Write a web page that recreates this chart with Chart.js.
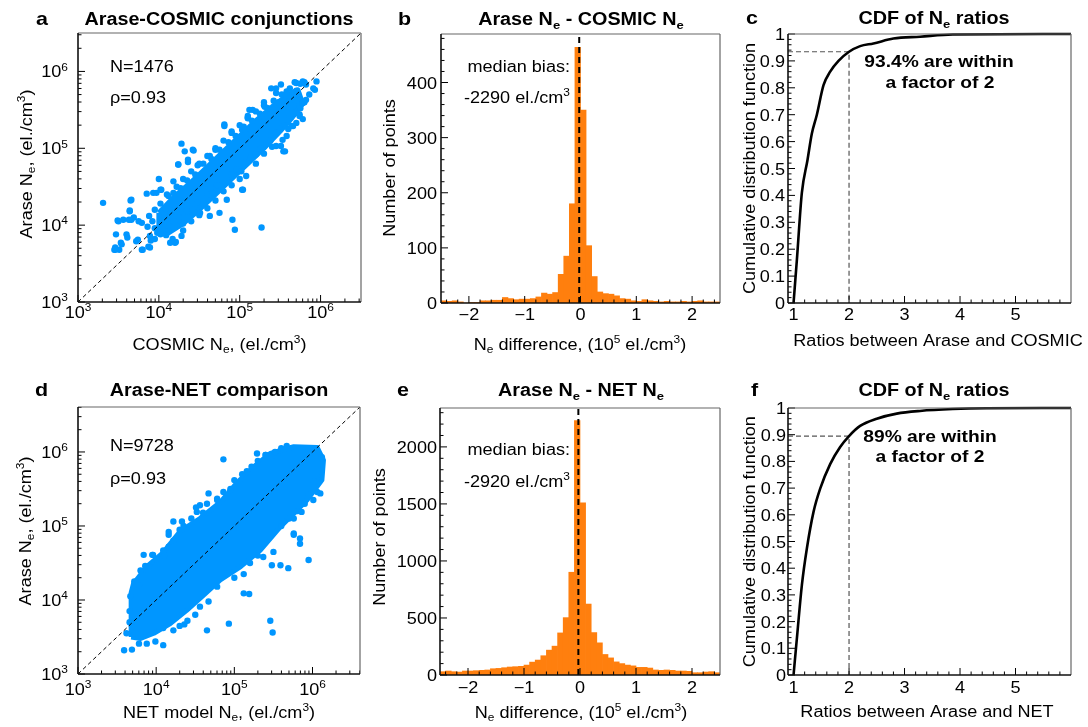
<!DOCTYPE html>
<html>
<head>
<meta charset="utf-8">
<script src="https://cdn.jsdelivr.net/npm/chart.js"></script>
<style>
  html, body { margin: 0; padding: 0; background: #fff; }
  #wrap { position: relative; width: 1088px; height: 727px; }
  #wrap canvas { position: absolute; left: 0; top: 0; }
</style>
</head>
<body>
<div id="wrap">
  <canvas id="pa" width="1088" height="727"></canvas>
  <canvas id="pb" width="1088" height="727"></canvas>
  <canvas id="pc" width="1088" height="727"></canvas>
  <canvas id="pd" width="1088" height="727"></canvas>
  <canvas id="pe" width="1088" height="727"></canvas>
  <canvas id="pf" width="1088" height="727"></canvas>
</div>
<script>
// ---- data ----
// scatter values are log10(Ne) pairs: [x, y]
// dense core of the Arase-COSMIC cloud (outline of the solid area)
const cosmicCore = [
  [4.0, 4.16], [4.2, 4.38], [4.4, 4.56], [4.6, 4.76], [4.8, 4.96], [5.0, 5.16],
  [5.2, 5.36], [5.4, 5.54], [5.6, 5.7], [5.72, 5.76], [5.78, 5.58], [5.65, 5.4], [5.5, 5.22],
  [5.3, 5.0], [5.1, 4.8], [4.9, 4.6], [4.7, 4.4], [4.5, 4.2], [4.3, 4.02], [4.12, 3.9],
  [4.0, 3.92], [4.0, 4.16]
];
const cosmicPoints = [
  // upper side of the band
  [3.88, 4.12], [3.95, 4.2], [4.02, 4.28], [4.08, 4.22], [4.12, 4.38], [4.18, 4.42], [4.22, 4.5],
  [4.27, 4.48], [4.3, 4.6], [4.35, 4.58], [4.4, 4.7], [4.45, 4.66], [4.48, 4.78], [4.55, 4.8],
  [4.6, 4.9], [4.65, 4.86], [4.7, 5.0], [4.75, 4.98], [4.8, 5.1], [4.86, 5.08], [4.9, 5.2],
  [4.95, 5.16], [5.0, 5.3], [5.05, 5.28], [5.1, 5.4], [5.15, 5.36], [5.2, 5.48], [5.25, 5.45],
  [5.3, 5.56], [5.35, 5.52], [5.42, 5.62], [5.48, 5.6], [5.52, 5.7], [5.58, 5.68], [5.62, 5.78],
  [5.7, 5.75], [5.75, 5.84], [4.03, 4.46], [3.93, 4.42], [4.24, 4.79], [4.36, 4.85], [4.42, 4.98],
  [4.81, 5.29], [5.12, 5.5], [5.39, 5.78], [5.51, 5.83], [5.7, 5.85], [4.63, 4.9], [5.03, 5.24],
  [4.1, 4.4], [4.5, 4.8], [4.7, 4.98], [4.9, 5.22], [5.1, 5.42], [5.3, 5.6], [5.45, 5.72],
  [3.92, 4.05], [3.86, 3.98], [3.95, 3.96],
  // lower side of the band
  [3.9, 3.8], [3.98, 3.9], [4.05, 3.95], [4.12, 3.92], [4.18, 4.05], [4.25, 4.1], [4.3, 4.02],
  [4.35, 4.18], [4.42, 4.2], [4.48, 4.3], [4.55, 4.28], [4.6, 4.4], [4.66, 4.42], [4.72, 4.52],
  [4.78, 4.5], [4.84, 4.62], [4.9, 4.66], [4.96, 4.72], [5.02, 4.7], [5.08, 4.82], [5.14, 4.88],
  [5.2, 4.92], [5.26, 5.0], [5.32, 5.05], [5.38, 5.1], [5.44, 5.2], [5.5, 5.25], [5.56, 5.3],
  [5.62, 5.4], [5.68, 5.46], [5.74, 5.55], [5.8, 5.6], [5.86, 5.7], [5.78, 5.59], [5.74, 5.44],
  [5.66, 5.29], [5.53, 5.11], [5.51, 5.03], [5.56, 4.96], [5.08, 4.64], [5.04, 4.46], [4.51, 4.16],
  [4.22, 3.99], [3.89, 3.86], [4.14, 3.77], [4.2, 3.77], [3.89, 3.71], [3.79, 3.68], [3.72, 3.79],
  [4.5, 4.13], [4.6, 4.22], [4.7, 4.32], [4.8, 4.44], [4.9, 4.52], [5.0, 4.6], [5.2, 4.8],
  [5.3, 4.93], [5.4, 5.02], [5.6, 5.25], [4.4, 4.05], [4.3, 3.93],
  // scattered points
  [3.31, 4.29], [3.46, 3.71], [3.49, 4.06], [3.45, 3.68], [3.51, 3.68], [3.53, 3.77], [3.6, 3.88],
  [3.61, 3.84], [3.65, 4.32], [3.64, 4.19], [3.63, 4.07], [3.69, 4.1], [3.74, 3.81], [3.8, 3.68],
  [3.87, 3.72], [3.75, 4.05], [3.79, 4.03], [3.85, 4.41], [3.97, 4.42], [4.02, 4.46], [4.18, 4.57],
  [4.24, 4.79], [4.32, 4.96], [4.36, 4.82], [4.43, 4.97], [4.81, 5.31], [4.91, 4.07], [4.94, 3.94],
  [5.27, 3.97], [5.03, 4.46], [4.84, 4.33], [4.63, 4.12], [4.75, 4.16], [4.28, 3.86], [4.21, 3.78],
  [4.17, 3.82], [4.09, 3.87], [3.95, 3.82], [4.02, 3.88], [5.45, 5.78], [5.45, 5.03], [5.54, 4.96],
  [5.58, 5.16], [5.64, 5.29], [5.7, 5.33], [5.74, 5.42], [5.75, 5.52], [5.78, 5.38], [5.16, 5.5],
  [5.31, 5.54], [5.1, 5.39], [5.68, 5.86], [5.78, 5.87], [5.8, 5.86], [5.95, 5.87], [5.93, 5.76],
  [5.91, 5.78], [5.82, 5.63], [5.72, 5.72], [5.62, 5.63], [5.58, 5.74], [5.82, 5.83],
  [3.66, 4.33], [3.64, 4.18], [3.66, 4.07], [3.56, 4.07], [3.5, 4.05], [3.47, 3.88], [3.46, 3.68],
  [3.54, 3.75], [4.28, 5.06], [4.0, 4.6]
];

// dense core of the Arase-NET cloud
const netCore = [
  [3.68, 3.5], [3.68, 4.1], [3.71, 4.22], [3.88, 4.45], [4.09, 4.64], [4.31, 4.93], [4.56, 5.1],
  [4.82, 5.32], [5.03, 5.58], [5.25, 5.8], [5.46, 5.98], [5.76, 6.07], [6.06, 6.06], [6.14, 5.89],
  [6.12, 5.62], [5.93, 5.35], [5.76, 5.17], [5.59, 4.99], [5.33, 4.67], [5.08, 4.45], [4.82, 4.27],
  [4.61, 4.07], [4.39, 3.86], [4.18, 3.68], [3.97, 3.55], [3.8, 3.48], [3.68, 3.5]
];
const netPoints = [
  // upper-left edge
  [3.72, 4.25], [3.8, 4.4], [3.9, 4.45], [3.95, 4.61], [3.84, 4.61], [4.0, 4.55], [4.1, 4.6],
  [4.16, 4.72], [4.22, 4.8], [4.16, 4.92], [4.22, 5.06], [4.3, 4.95], [4.35, 5.0], [4.45, 5.1],
  [4.51, 5.25], [4.6, 5.18], [4.65, 5.3], [4.78, 5.35], [4.86, 5.46], [4.95, 5.5], [5.0, 5.62],
  [5.1, 5.7], [5.16, 5.74], [5.22, 5.8], [5.3, 5.88], [5.4, 5.96], [5.48, 5.95], [4.86, 5.9],
  [5.6, 6.05], [5.67, 6.08], [5.52, 6.0], [4.67, 5.44], [4.56, 5.28], [4.33, 5.06], [4.16, 4.88],
  [4.09, 4.67], [3.96, 4.61], [3.86, 4.46], [3.78, 4.2], [5.16, 5.73], [5.29, 5.98], [5.4, 5.96],
  [4.95, 5.48], [4.78, 5.37], [4.52, 5.19],
  // lower-right edge and outliers
  [6.12, 5.93], [6.06, 5.46], [6.02, 5.6], [5.95, 5.42], [5.9, 5.3], [5.84, 4.83], [5.84, 4.76],
  [5.76, 4.88], [5.95, 4.54], [5.8, 5.2], [5.7, 5.1], [5.6, 5.0], [5.69, 4.43], [5.59, 4.47],
  [5.48, 4.47], [5.5, 4.65], [5.37, 4.58], [5.3, 4.6], [5.2, 4.5], [5.12, 4.35], [5.0, 4.3],
  [4.91, 4.36], [4.78, 4.18], [4.67, 3.98], [4.56, 3.91], [4.5, 3.8], [4.4, 3.72], [4.3, 3.65],
  [5.12, 4.09], [5.19, 4.08], [4.93, 3.68], [4.65, 3.59], [4.36, 3.67], [5.46, 3.72], [5.49, 3.56],
  [4.22, 3.59], [4.09, 3.62], [4.09, 3.39], [3.99, 3.44], [3.88, 3.41], [3.78, 3.41], [3.69, 3.33],
  [3.73, 3.55], [3.59, 3.32], [3.62, 3.55], [3.66, 3.7], [3.66, 3.85], [3.67, 4.05], [6.1, 5.44],
  [6.01, 5.35], [5.86, 5.19], [5.76, 5.1], [5.76, 4.9]
];

// histogram bins, Ne difference in 1e5 el./cm3
const diffBinCenters = [
  -2.45, -2.35, -2.25, -2.15, -2.05, -1.95, -1.85, -1.75, -1.65, -1.55,
  -1.45, -1.35, -1.25, -1.15, -1.05, -0.95, -0.85, -0.75, -0.65, -0.55,
  -0.45, -0.35, -0.25, -0.15, -0.05, 0.05, 0.15, 0.25, 0.35, 0.45,
  0.55, 0.65, 0.75, 0.85, 0.95, 1.05, 1.15, 1.25, 1.35, 1.45,
  1.55, 1.65, 1.75, 1.85, 1.95, 2.05, 2.15, 2.25, 2.35, 2.45
];
const cosmicDiffCounts = [
  4, 3, 4, 2, 0, 1, 1, 4, 4, 5,
  5, 10, 8, 6, 7, 7, 8, 11, 18, 16,
  19, 52, 85, 180, 464, 350, 104, 48, 20, 17,
  16, 13, 8, 7, 4, 3, 6, 4, 3, 2,
  3, 2, 2, 3, 2, 3, 4, 2, 2, 2
];
const netDiffCounts = [
  29, 35, 29, 26, 35, 35, 38, 41, 44, 55,
  58, 64, 70, 73, 76, 87, 113, 131, 169, 218,
  253, 369, 503, 901, 2230, 1509, 622, 372, 282, 180,
  150, 115, 100, 87, 80, 67, 67, 61, 44, 41,
  44, 41, 35, 35, 32, 20, 20, 26, 29, 20
];
const cosmicMedianBias = -0.0229;
const netMedianBias = -0.0292;

// CDFs of the Ne ratios
const cdfRatioC = [1.0, 1.06, 1.15, 1.25, 1.33, 1.42, 1.54, 1.66, 1.81, 2.0, 2.2, 2.44, 2.8, 3.28, 3.87, 6.0];
const cdfValueC = [0, 0.16, 0.41, 0.53, 0.63, 0.7, 0.81, 0.86, 0.9, 0.934, 0.955, 0.965, 0.983, 0.99, 0.998, 1.0];
const cdfRatioF = [1.0, 1.07, 1.15, 1.24, 1.36, 1.48, 1.66, 1.84, 2.0, 2.2, 2.5, 2.86, 3.28, 3.87, 4.47, 6.0];
const cdfValueF = [0, 0.16, 0.337, 0.474, 0.611, 0.698, 0.79, 0.854, 0.895, 0.933, 0.96, 0.979, 0.989, 0.996, 0.999, 1.0];
const withinTwoC = 0.934;
const withinTwoF = 0.895;

// tick labels
const logTickValues = [1e3, 1e4, 1e5, 1e6];
const logTickLabels = ['10^{3}', '10^{4}', '10^{5}', '10^{6}'];
const diffTickValues = [-2, -1, 0, 1, 2];
const diffTickLabels = ['\u22122', '\u22121', '0', '1', '2'];
const cosmicCountTicks = [0, 100, 200, 300, 400];
const netCountTicks = [0, 500, 1000, 1500, 2000];
const ratioTicks = [1, 2, 3, 4, 5];
const cdfTicks = [0, 0.1, 0.2, 0.3, 0.4, 0.5, 0.6, 0.7, 0.8, 0.9, 1];
const cdfTickLabels = ['0', '0.1', '0.2', '0.3', '0.4', '0.5', '0.6', '0.7', '0.8', '0.9', '1'];

// ---- drawing helpers ----
const W = 1088, H = 727;
const FONT = '"Liberation Sans", Arial, sans-serif';
const SX = 1.13; // the figure's lettering is a bit wider than Arial
const BLUE = 'rgb(0,150,255)';
const ORANGE = 'rgb(255,127,14)';

function parseRich(str) {
  const out = [];
  const re = /([_^])\{([^}]*)\}/g;
  let last = 0, m;
  while ((m = re.exec(str))) {
    if (m.index > last) out.push([str.slice(last, m.index), '']);
    out.push([m[2], m[1] === '_' ? 'sub' : 'sup']);
    last = re.lastIndex;
  }
  if (last < str.length) out.push([str.slice(last), '']);
  return out;
}

function drawText(ctx, str, x, y, o = {}) {
  const size = o.size || 16;
  const weight = o.bold ? 'bold ' : '';
  const small = size * 0.66;
  const parts = parseRich(str);
  ctx.save();
  ctx.translate(x, y);
  if (o.rotate) ctx.rotate(-Math.PI / 2);
  ctx.scale(SX, 1);
  ctx.fillStyle = '#000';
  ctx.textBaseline = 'alphabetic';
  ctx.textAlign = 'left';
  let w = 0;
  const widths = parts.map(([t, k]) => {
    ctx.font = weight + (k ? small : size) + 'px ' + FONT;
    const tw = ctx.measureText(t).width;
    w += tw;
    return tw;
  });
  let cx = o.align === 'center' ? -w / 2 : o.align === 'right' ? -w : 0;
  parts.forEach(([t, k], i) => {
    ctx.font = weight + (k ? small : size) + 'px ' + FONT;
    const dy = k === 'sub' ? size * 0.2 : k === 'sup' ? -size * 0.42 : 0;
    ctx.fillText(t, cx, dy);
    cx += widths[i];
  });
  ctx.restore();
}

function logMinor(max) {
  const out = [];
  for (let e = 3; e <= 6; e++) for (let k = 2; k <= 9; k++) if (k * 10 ** e < max) out.push(k * 10 ** e);
  return out;
}
function stepMinor(from, to, step, skip) {
  const out = [];
  const n = Math.round((to - from) / step);
  for (let i = 0; i <= n; i++) {
    const v = +(from + i * step).toFixed(4);
    if (!skip.some(s => Math.abs(s - v) < 1e-6)) out.push(v);
  }
  return out;
}

function decoPlugin(d) {
  return {
    id: 'deco',
    afterDraw(chart) {
      const { ctx, chartArea: a, scales: { x, y } } = chart;
      ctx.save();
      ctx.strokeStyle = '#000';
      ctx.lineWidth = 1;
      const seg = (x1, y1, x2, y2) => { ctx.beginPath(); ctx.moveTo(x1, y1); ctx.lineTo(x2, y2); ctx.stroke(); };
      d.xMinor.forEach(v => { const p = x.getPixelForValue(v); seg(p, a.bottom, p, a.bottom - 3.5); });
      d.xMajor.forEach(v => { const p = x.getPixelForValue(v); seg(p, a.bottom, p, a.bottom - 7); });
      d.yMinor.forEach(v => { const p = y.getPixelForValue(v); seg(a.left, p, a.left + 3.5, p); });
      d.yMajor.forEach(v => { const p = y.getPixelForValue(v); seg(a.left, p, a.left + 7, p); });
      // frame
      ctx.strokeStyle = '#666';
      ctx.lineWidth = 1.2;
      seg(a.left, a.top, a.right, a.top);
      seg(a.right, a.top, a.right, a.bottom);
      ctx.strokeStyle = '#111';
      ctx.lineWidth = 1.6;
      seg(a.left, a.top, a.left, a.bottom);
      seg(a.left, a.bottom, a.right, a.bottom);
      // tick labels
      d.xMajor.forEach((v, i) => drawText(ctx, d.xLabels[i], x.getPixelForValue(v), a.bottom + d.xLabelDy, { align: 'center' }));
      d.yMajor.forEach((v, i) => drawText(ctx, d.yLabels[i], d.yLabelRight, y.getPixelForValue(v) + 6, { align: 'right' }));
      d.texts.forEach(t => drawText(ctx, t.s, t.x, t.y, t));
      ctx.restore();
    }
  };
}

function baseOptions(box, xScale, yScale) {
  return {
    responsive: false,
    animation: false,
    devicePixelRatio: 1,
    events: [],
    layout: { padding: { left: box[0], top: box[1], right: W - box[2], bottom: H - box[3] } },
    plugins: { legend: { display: false }, tooltip: { enabled: false } },
    scales: { x: { ...xScale, display: false }, y: { ...yScale, display: false } }
  };
}

const toPts = arr => arr.map(([a, b]) => ({ x: 10 ** a, y: 10 ** b }));

function scatterPanel(id, box, core, pts, axMax, deco) {
  new Chart(document.getElementById(id), {
    type: 'scatter',
    data: {
      datasets: [
        { data: [{ x: 1e3, y: 1e3 }, { x: axMax, y: axMax }], showLine: true, borderColor: '#000',
          borderWidth: 1, borderDash: [4, 3], pointRadius: 0, order: 0 },
        { data: toPts(pts), pointRadius: 3.2, backgroundColor: BLUE, borderWidth: 0, order: 1 },
        { data: toPts(core), showLine: true, fill: 'shape', backgroundColor: BLUE, borderColor: BLUE,
          borderWidth: 5, borderJoinStyle: 'round', pointRadius: 0, order: 2 }
      ]
    },
    options: baseOptions(box, { type: 'logarithmic', min: 1e3, max: axMax }, { type: 'logarithmic', min: 1e3, max: axMax }),
    plugins: [decoPlugin(deco)]
  });
}

function histPanel(id, box, counts, bias, yMax, deco) {
  new Chart(document.getElementById(id), {
    type: 'bar',
    data: {
      datasets: [
        { type: 'line', data: [{ x: bias, y: 0 }, { x: bias, y: yMax }], borderColor: '#000', borderWidth: 2,
          borderDash: [6, 4], pointRadius: 0, order: 0 },
        { data: diffBinCenters.map((c, i) => ({ x: c, y: counts[i] })), backgroundColor: ORANGE,
          barPercentage: 1, categoryPercentage: 1, borderWidth: 0, order: 1 }
      ]
    },
    options: baseOptions(box, { type: 'linear', min: -2.5, max: 2.5, offset: false }, { type: 'linear', min: 0, max: yMax }),
    plugins: [decoPlugin(deco)]
  });
}

function cdfPanel(id, box, ratios, values, within, deco) {
  new Chart(document.getElementById(id), {
    type: 'scatter',
    data: {
      datasets: [
        { data: ratios.map((r, i) => ({ x: r, y: values[i] })), showLine: true, borderColor: '#000',
          borderWidth: 2.6, pointRadius: 0, cubicInterpolationMode: 'monotone', clip: false, order: 0 },
        { data: [{ x: 0.9, y: within }, { x: 2, y: within }, { x: 2, y: 0 }], showLine: true, borderColor: '#555',
          borderWidth: 1.2, borderDash: [5, 3], pointRadius: 0, order: 1 }
      ]
    },
    options: baseOptions(box, { type: 'linear', min: 0.9, max: 6 }, { type: 'linear', min: 0, max: 1 }),
    plugins: [decoPlugin(deco)]
  });
}

// ---- panels ----
const maxA = 10 ** 6.5, maxD = 4.05e6;
scatterPanel('pa', [78, 33, 361, 302], cosmicCore, cosmicPoints, maxA, {
  xMajor: logTickValues, xMinor: logMinor(maxA), xLabels: logTickLabels, xLabelDy: 16,
  yMajor: logTickValues, yMinor: logMinor(maxA), yLabels: logTickLabels, yLabelRight: 68,
  texts: [
    { s: 'a', x: 36, y: 25, bold: true, size: 19 },
    { s: 'Arase-COSMIC conjunctions', x: 219, y: 25, bold: true, size: 17.5, align: 'center' },
    { s: 'COSMIC N_{e}, (el./cm^{3})', x: 219.5, y: 350, align: 'center' },
    { s: 'Arase N_{e}, (el./cm^{3})', x: 32, y: 164, align: 'center', rotate: true },
    { s: 'N=1476', x: 110, y: 72 },
    { s: '\u03c1=0.93', x: 110, y: 103 }
  ]
});

histPanel('pb', [441, 34, 720, 303], cosmicDiffCounts, cosmicMedianBias, 488, {
  xMajor: diffTickValues, xMinor: stepMinor(-2.4, 2.4, 0.2, diffTickValues), xLabels: diffTickLabels, xLabelDy: 17,
  yMajor: cosmicCountTicks, yMinor: stepMinor(20, 480, 20, cosmicCountTicks), yLabels: cosmicCountTicks.map(String), yLabelRight: 437,
  texts: [
    { s: 'b', x: 398, y: 25, bold: true, size: 19 },
    { s: 'Arase N_{e} - COSMIC N_{e}', x: 581, y: 25, bold: true, size: 17.5, align: 'center' },
    { s: 'N_{e} difference, (10^{5} el./cm^{3})', x: 580, y: 350, align: 'center' },
    { s: 'Number of points', x: 395, y: 168, align: 'center', rotate: true },
    { s: 'median bias:', x: 570, y: 72, align: 'right' },
    { s: '-2290 el./cm^{3}', x: 570, y: 103, align: 'right' }
  ]
});

cdfPanel('pc', [788, 34, 1071, 303], cdfRatioC, cdfValueC, withinTwoC, {
  xMajor: ratioTicks, xMinor: stepMinor(1.2, 5.8, 0.2, ratioTicks), xLabels: ratioTicks.map(String), xLabelDy: 17,
  yMajor: cdfTicks, yMinor: stepMinor(0.02, 0.98, 0.02, cdfTicks), yLabels: cdfTickLabels, yLabelRight: 785,
  texts: [
    { s: 'c', x: 746, y: 24, bold: true, size: 19 },
    { s: 'CDF of N_{e} ratios', x: 934, y: 24, bold: true, size: 17.5, align: 'center' },
    { s: 'Ratios between Arase and COSMIC', x: 938, y: 346, align: 'center' },
    { s: 'Cumulative distribution function', x: 755, y: 168.5, align: 'center', rotate: true },
    { s: '93.4% are within', x: 939, y: 67, bold: true, size: 17, align: 'center' },
    { s: 'a factor of 2', x: 940, y: 88, bold: true, size: 17, align: 'center' }
  ]
});

scatterPanel('pd', [78, 407, 360, 674], netCore, netPoints, maxD, {
  xMajor: logTickValues, xMinor: logMinor(maxD), xLabels: logTickLabels, xLabelDy: 21,
  yMajor: logTickValues, yMinor: logMinor(maxD), yLabels: logTickLabels, yLabelRight: 68,
  texts: [
    { s: 'd', x: 35, y: 396, bold: true, size: 19 },
    { s: 'Arase-NET comparison', x: 219, y: 396, bold: true, size: 17.5, align: 'center' },
    { s: 'NET model N_{e}, (el./cm^{3})', x: 219, y: 718, align: 'center' },
    { s: 'Arase N_{e}, (el./cm^{3})', x: 31, y: 531, align: 'center', rotate: true },
    { s: 'N=9728', x: 110, y: 451 },
    { s: '\u03c1=0.93', x: 110, y: 484 }
  ]
});

histPanel('pe', [440, 408, 720, 675], netDiffCounts, netMedianBias, 2341, {
  xMajor: diffTickValues, xMinor: stepMinor(-2.4, 2.4, 0.2, diffTickValues), xLabels: diffTickLabels, xLabelDy: 18,
  yMajor: netCountTicks, yMinor: stepMinor(100, 2300, 100, netCountTicks), yLabels: netCountTicks.map(String), yLabelRight: 437,
  texts: [
    { s: 'e', x: 397, y: 396, bold: true, size: 19 },
    { s: 'Arase N_{e} - NET N_{e}', x: 581, y: 396, bold: true, size: 17.5, align: 'center' },
    { s: 'N_{e} difference, (10^{5} el./cm^{3})', x: 581, y: 718, align: 'center' },
    { s: 'Number of points', x: 385, y: 537, align: 'center', rotate: true },
    { s: 'median bias:', x: 570, y: 455, align: 'right' },
    { s: '-2920 el./cm^{3}', x: 570, y: 487, align: 'right' }
  ]
});

cdfPanel('pf', [788, 408, 1071, 675], cdfRatioF, cdfValueF, withinTwoF, {
  xMajor: ratioTicks, xMinor: stepMinor(1.2, 5.8, 0.2, ratioTicks), xLabels: ratioTicks.map(String), xLabelDy: 18,
  yMajor: cdfTicks, yMinor: stepMinor(0.02, 0.98, 0.02, cdfTicks), yLabels: cdfTickLabels, yLabelRight: 786,
  texts: [
    { s: 'f', x: 751, y: 396, bold: true, size: 19 },
    { s: 'CDF of N_{e} ratios', x: 934, y: 396, bold: true, size: 17.5, align: 'center' },
    { s: 'Ratios between Arase and NET', x: 927, y: 717, align: 'center' },
    { s: 'Cumulative distribution function', x: 755, y: 541.7, align: 'center', rotate: true },
    { s: '89% are within', x: 930, y: 442, bold: true, size: 17, align: 'center' },
    { s: 'a factor of 2', x: 930, y: 462, bold: true, size: 17, align: 'center' }
  ]
});
</script>
</body>
</html>
